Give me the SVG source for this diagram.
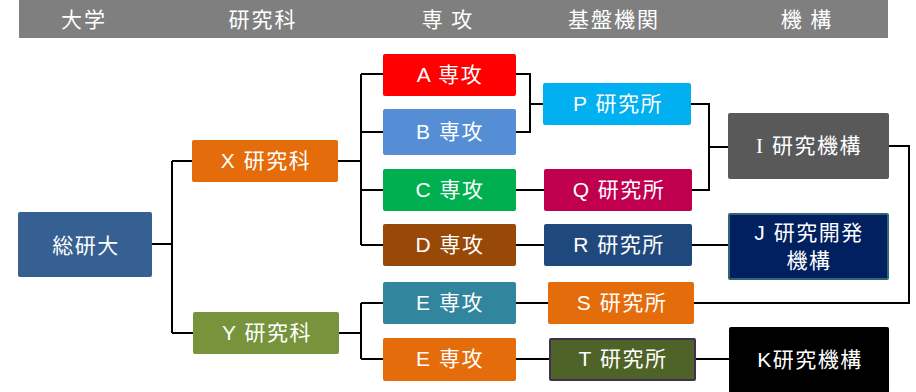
<svg xmlns="http://www.w3.org/2000/svg" width="916" height="392" viewBox="0 0 916 392">
<style>
.hd{font-family:"Noto Sans CJK JP","Noto Sans",sans-serif;font-size:21px;fill:#fff;text-anchor:middle;letter-spacing:2px}
.lb{font-family:"Liberation Sans","Noto Sans CJK JP",sans-serif;font-size:21px;fill:#fff;text-anchor:middle;letter-spacing:1.5px}
.cn{fill:none;stroke:#000;stroke-width:2}
</style>
<rect x="19" y="0" width="869" height="38" fill="#7f7f7f"/>
<g id="header">
<text class="hd" x="84" y="27">大学</text>
<text class="hd" x="263" y="27">研究科</text>
<text class="hd" x="448" y="27">専 攻</text>
<text class="hd" x="614" y="27">基盤機関</text>
<text class="hd" x="807" y="27">機 構</text>
</g>
<g id="connectors" class="cn">
<path d="M152 244H172M172 161V333M172 161H192M172 333H193"/>
<path d="M338 161H361M361 74V245M361 74H383M361 132H383M361 190H383M361 245H383"/>
<path d="M339 333H361M361 303V359M361 303H383M361 359H383"/>
<path d="M516 74H530V132H516M530 104H543"/>
<path d="M516 190H544"/>
<path d="M691 104H709V190H692M709 147H728"/>
<path d="M516 245H544M692 245H728"/>
<path d="M516 303H548M694 303H909V146H889"/>
<path d="M516 359H549M695 359H729"/>
</g>
<g id="sokendai"><rect x="18" y="212" width="134" height="65" rx="2" fill="#376092"/><text class="lb" x="86" y="253" font-size="23">総研大</text></g>
<g id="x-kenkyuka"><rect x="192" y="140" width="146" height="42" rx="2" fill="#e46c0a"/><text class="lb" x="266" y="168">X 研究科</text></g>
<g id="y-kenkyuka"><rect x="193" y="312" width="146" height="42" rx="2" fill="#77933c"/><text class="lb" x="267" y="340">Y 研究科</text></g>
<g id="a-senko"><rect x="383" y="54" width="133" height="42" rx="2" fill="#ff0000"/><text class="lb" x="450" y="82">A 専攻</text></g>
<g id="b-senko"><rect x="383" y="109" width="133" height="46" rx="2" fill="#558ed5"/><text class="lb" x="450" y="139">B 専攻</text></g>
<g id="c-senko"><rect x="383" y="169" width="133" height="42" rx="2" fill="#00b050"/><text class="lb" x="450" y="197">C 専攻</text></g>
<g id="d-senko"><rect x="383" y="224" width="133" height="42" rx="2" fill="#984807"/><text class="lb" x="450" y="252">D 専攻</text></g>
<g id="e-senko-1"><rect x="383" y="282" width="133" height="42" rx="2" fill="#31859c"/><text class="lb" x="450" y="310">E 専攻</text></g>
<g id="e-senko-2"><rect x="383" y="338" width="133" height="43" rx="2" fill="#e46c0a"/><text class="lb" x="450" y="366">E 専攻</text></g>
<g id="p-kenkyusho"><rect x="543" y="83" width="148" height="42" rx="2" fill="#00b0f0"/><text class="lb" x="618" y="111">P 研究所</text></g>
<g id="q-kenkyusho"><rect x="544" y="169" width="148" height="42" rx="2" fill="#c0004f"/><text class="lb" x="619" y="197">Q 研究所</text></g>
<g id="r-kenkyusho"><rect x="544" y="224" width="148" height="42" rx="2" fill="#1f497d"/><text class="lb" x="619" y="252">R 研究所</text></g>
<g id="s-kenkyusho"><rect x="548" y="282" width="146" height="42" rx="2" fill="#e46c0a"/><text class="lb" x="622" y="310">S 研究所</text></g>
<g id="t-kenkyusho"><rect x="550" y="339" width="145" height="41" rx="1" fill="#4f6228" stroke="#403151" stroke-width="2"/><text class="lb" x="623" y="366">T 研究所</text></g>
<g id="i-kikou"><rect x="728" y="113" width="161" height="66" rx="2" fill="#595959"/><text class="lb" x="809" y="153"><tspan font-family="Liberation Serif">I</tspan> 研究機構</text></g>
<g id="j-kikou"><rect x="729" y="214" width="159" height="65" rx="1" fill="#002060" stroke="#31657a" stroke-width="2"/><text class="lb" x="809" y="240">J 研究開発</text><text class="lb" x="809" y="268">機構</text></g>
<g id="k-kikou"><rect x="729" y="327" width="160" height="66" rx="2" fill="#000"/><text class="lb" x="810" y="367">K研究機構</text></g>
</svg>
